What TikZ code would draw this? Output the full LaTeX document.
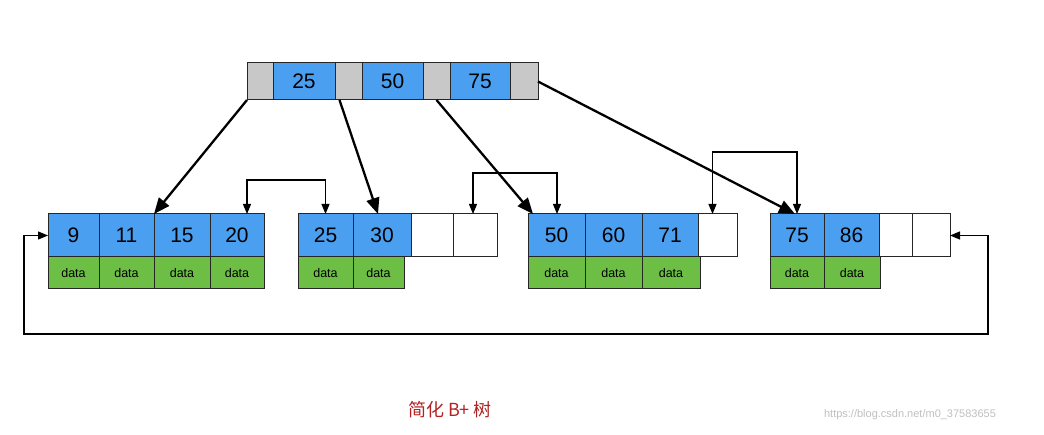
\documentclass[tikz,border=0pt]{standalone}
\usepackage{fontspec}
\setmainfont{Liberation Sans}
\newfontfamily\cjk{Noto Sans CJK SC}
\usetikzlibrary{arrows.meta}
\definecolor{kb}{HTML}{4A9FF0}
\definecolor{dg}{HTML}{6DBE45}
\definecolor{gr}{HTML}{C8C8C8}
\definecolor{cap}{HTML}{B22222}
\begin{document}
\begin{tikzpicture}[x=1pt,y=-1pt,
  cell/.style={draw=black!85,line width=1pt,inner sep=0pt,outer sep=0pt,font=\fontsize{21}{21}\selectfont},
  dat/.style={draw=black!85,line width=1pt,fill=dg,inner sep=0pt,outer sep=0pt,font=\fontsize{12.5}{12.5}\selectfont},
  ptr/.style={line width=2.3pt,-{Triangle[length=16pt,width=13pt]}},
  lnk/.style={line width=1.1pt,{Triangle[length=10pt,width=8pt]}-{Triangle[length=10pt,width=8pt]}}]
\useasboundingbox (0,0) rectangle (1044,435);
% root
\foreach \n/\a/\b/\c/\t in {r0/247/273/gr/,r1/273/335/kb/25,r2/335/362/gr/,r3/362/423/kb/50,r4/423/450/gr/,r5/450/510/kb/75,r6/510/538/gr/}{
  \node[cell,fill=\c,minimum width={\b-\a},minimum height=37,anchor=north west] (\n) at (\a,63) {\t};}
% leaves keys
\foreach \n/\a/\b/\c/\t in {a1/48/99/kb/9,a2/99/154/kb/11,a3/154/210/kb/15,a4/210/264/kb/20,
  b1/298/353/kb/25,b2/353/411/kb/30,b3/411/453/white/,b4/453/497/white/,
  c1/528/585/kb/50,c2/585/642/kb/60,c3/642/698/kb/71,c4/698/737/white/,
  d1/770/824/kb/75,d2/824/879/kb/86,d3/879/912/white/,d4/912/950/white/}{
  \node[cell,fill=\c,minimum width={\b-\a},minimum height=43,anchor=north west] (\n) at (\a,214) {\t};}
% data
\foreach \n/\a/\b in {e1/48/99,e2/99/154,e3/154/210,e4/210/264,f1/298/353,f2/353/404,
  g1/528/585,g2/585/642,g3/642/700,h1/770/824,h2/824/880}{
  \node[dat,minimum width={\b-\a},minimum height=32,anchor=north west] (\n) at (\a,257) {data};}
% root pointers
\draw[ptr] (r0.south west) -- (a3.north west);
\draw[ptr] ([xshift=-9pt]r2.south) -- ([xshift=-4pt]b2.north);
\draw[ptr] (r4.south) -- ([xshift=5pt]c1.north west);
\draw[ptr] (r6.east) -- ([xshift=25pt]d1.north west);
% sibling links
\draw[lnk] ([xshift=10pt]a4.north) -- ++(0,-34) -| (b1.north);
\draw[lnk] ([xshift=-2pt]b4.north) -- ++(0,-41) -| ([xshift=29pt]c1.north west);
\draw[lnk] ([xshift=-5pt]c4.north) -- ++(0,-62) -| ([xshift=27pt]d1.north west);
% loop
\coordinate (q) at (988,334);
\draw[lnk] (d4.east) -- (988,235.5) -- (q) -| (24,235.5) -- (a1.west);
\node[text=cap,font=\cjk\fontsize{18}{18}\selectfont] (t) at (450,410) {简化 B+ 树};
\node[text=black!25,font=\fontsize{11}{11}\selectfont] (w) at (910,415) {https://blog.csdn.net/m0\_37583655};
\end{tikzpicture}
\end{document}
